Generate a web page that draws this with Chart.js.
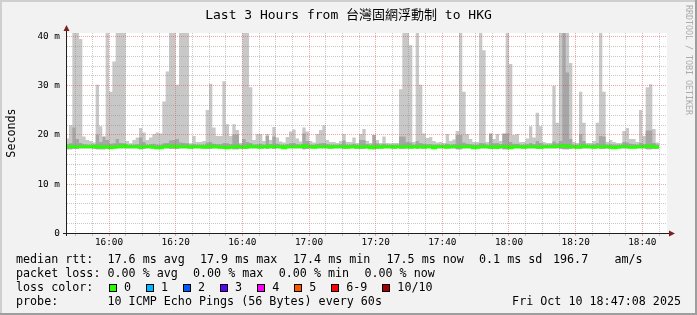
<!DOCTYPE html>
<html>
<head>
<meta charset="utf-8">
<script src="https://cdn.jsdelivr.net/npm/chart.js@4.4.1/dist/chart.umd.min.js"></script>
<style>
  html, body { margin: 0; padding: 0; background: #f2f2f2; }
  canvas { display: block; }
</style>
</head>
<body>
<canvas id="smoke" width="697" height="315"></canvas>
<script>
// one slot per probe round (60s), slot 0 = 15:47
const startMinute = 15 * 60 + 47;

// top of the outer (light) smoke, ms
const smokeHigh = [
  19.3, 22.0, 41, 41, 39.5, 19.7, 19.0, 18.8, 18.5, 30.2,
  21.8, 19.0, 41, 28.8, 34.9, 41, 41, 41, 18.8, 18.3,
  19.0, 19.5, 21.4, 20.5, 19.0, 19.5, 20.2, 20.5, 20.3, 26.8,
  32.9, 41, 41, 30.2, 41, 41, 41, 18.3, 19.8, 18.6,
  18.6, 18.8, 25.1, 30.4, 21.5, 19.8, 19.8, 30.9, 22.2, 19.8,
  22.2, 21.0, 18.4, 41, 41, 29.7, 19.0, 20.2, 20.2, 18.8,
  20.2, 19.0, 21.6, 19.5, 18.7, 18.5, 19.6, 20.7, 21.1, 19.3,
  18.7, 21.5, 20.7, 18.8, 18.5, 20.2, 21.0, 22.0, 19.0, 18.6,
  18.6, 18.4, 18.8, 20.2, 18.6, 18.6, 19.5, 18.4, 20.2, 21.2,
  18.8, 18.4, 20.0, 19.0, 18.4, 19.7, 18.4, 18.3, 18.4, 18.4,
  29.3, 41, 41, 38.2, 18.6, 41, 30.2, 20.3, 19.4, 19.6,
  18.8, 18.5, 18.6, 18.4, 20.2, 18.8, 19.1, 20.8, 41, 28.8,
  20.2, 19.2, 18.6, 18.6, 41, 37.2, 18.6, 20.2, 19.2, 20.2,
  18.8, 20.2, 41, 34.4, 20.0, 20.2, 18.6, 18.6, 19.3, 21.8,
  19.5, 24.5, 21.8, 18.6, 18.4, 18.4, 30.0, 22.5, 41, 41,
  41, 34.6, 18.6, 18.4, 28.8, 22.5, 18.4, 18.4, 18.8, 22.5,
  41, 28.8, 18.6, 19.0, 18.6, 18.4, 18.4, 20.8, 21.4, 19.2,
  19.2, 18.6, 25.1, 19.8, 29.7, 30.3, 21.2, 18.5
];

// top of the inner (darker) smoke, ms
const smokeMid = [
  18.1, 18.3, 21.5, 19.2, 18.4, 18.1, 18.0, 18.0, 18.0, 20.1,
  18.6, 19.7, 19.0, 18.2, 18.3, 19.2, 18.4, 18.3, 18.0, 18.0,
  18.0, 18.1, 19.5, 18.6, 18.0, 18.1, 18.2, 18.0, 18.0, 18.3,
  18.4, 18.9, 19.0, 19.2, 18.5, 18.4, 18.3, 18.0, 18.1, 18.0,
  18.0, 18.0, 18.5, 18.6, 18.2, 18.1, 18.1, 18.4, 18.3, 18.1,
  20.1, 20.1, 18.0, 19.2, 18.6, 18.4, 18.0, 18.1, 18.2, 18.0,
  19.8, 18.1, 19.7, 18.2, 18.0, 18.0, 18.1, 18.3, 18.4, 18.1,
  18.0, 20.3, 18.8, 18.0, 18.0, 18.2, 18.3, 18.4, 18.1, 18.0,
  18.0, 18.0, 18.1, 18.9, 18.0, 18.0, 18.2, 18.0, 19.0, 19.0,
  18.1, 18.0, 20.0, 18.3, 18.0, 18.2, 18.0, 18.0, 18.0, 18.0,
  19.7, 19.7, 18.6, 18.5, 18.0, 18.8, 18.4, 18.2, 18.1, 18.1,
  18.0, 18.0, 18.0, 18.0, 18.2, 18.0, 18.1, 20.0, 20.0, 18.5,
  18.2, 18.1, 18.0, 18.0, 18.4, 18.3, 18.0, 20.3, 18.3, 18.4,
  18.1, 20.3, 20.3, 18.6, 18.2, 18.2, 18.0, 18.0, 18.1, 18.4,
  18.1, 18.8, 18.4, 18.0, 18.0, 18.0, 18.7, 18.3, 18.8, 41,
  32.7, 19.2, 18.0, 18.0, 20.2, 18.8, 18.0, 18.0, 18.1, 18.4,
  19.8, 19.7, 18.0, 18.1, 18.0, 18.0, 18.0, 18.6, 18.5, 18.2,
  18.1, 18.0, 18.4, 18.1, 20.9, 20.9, 18.4, 18.0
];

// bottom of the smoke, ms
const smokeLow = [
  17.1, 17.1, 17.2, 17.2, 17.3, 17.3, 17.3, 17.3, 17.2, 17.1,
  17.1, 17.1, 17.2, 17.2, 17.3, 17.3, 17.3, 17.3, 17.3, 17.3,
  17.3, 17.3, 17.1, 17.2, 17.3, 17.3, 17.3, 17.2, 17.2, 17.3,
  17.3, 17.2, 17.2, 17.2, 17.3, 17.3, 17.3, 17.3, 17.3, 17.3,
  17.3, 17.3, 17.2, 17.2, 17.3, 17.3, 17.3, 17.2, 17.2, 17.3,
  17.1, 17.1, 17.3, 17.2, 17.2, 17.3, 17.3, 17.3, 17.3, 17.3,
  17.2, 17.3, 17.2, 17.3, 17.3, 17.3, 17.3, 17.3, 17.3, 17.3,
  17.3, 17.1, 17.2, 17.3, 17.3, 17.3, 17.3, 17.3, 17.3, 17.3,
  17.3, 17.3, 17.3, 17.2, 17.3, 17.3, 17.3, 17.3, 17.2, 17.2,
  17.3, 17.3, 17.1, 17.2, 17.3, 17.3, 17.3, 17.3, 17.3, 17.3,
  17.2, 17.2, 17.3, 17.3, 17.3, 17.2, 17.3, 17.3, 17.3, 17.3,
  17.3, 17.3, 17.3, 17.3, 17.3, 17.3, 17.3, 17.1, 17.1, 17.3,
  17.3, 17.3, 17.3, 17.3, 17.3, 17.3, 17.3, 17.2, 17.2, 17.2,
  17.3, 17.1, 17.1, 17.2, 17.3, 17.3, 17.3, 17.3, 17.3, 17.3,
  17.3, 17.2, 17.2, 17.3, 17.3, 17.3, 17.3, 17.3, 17.2, 17.1,
  17.1, 17.2, 17.3, 17.3, 17.2, 17.3, 17.3, 17.3, 17.3, 17.3,
  17.2, 17.2, 17.3, 17.3, 17.3, 17.3, 17.3, 17.3, 17.3, 17.3,
  17.3, 17.3, 17.3, 17.3, 17.1, 17.1, 17.2, 17.3
];

// median rtt, ms
const medianRtt = [
  17.6, 17.6, 17.6, 17.6, 17.6, 17.6, 17.6, 17.6, 17.7, 17.6, 17.5, 17.6,
  17.6, 17.4, 17.5, 17.6, 17.6, 17.8, 17.6, 17.6, 17.6, 17.6, 17.5, 17.6,
  17.6, 17.6, 17.5, 17.4, 17.4, 17.6, 17.6, 17.7, 17.7, 17.6, 17.6, 17.6,
  17.6, 17.5, 17.6, 17.6, 17.6, 17.5, 17.6, 17.7, 17.6, 17.6, 17.5, 17.5,
  17.4, 17.5, 17.6, 17.6, 17.5, 17.5, 17.6, 17.7, 17.6, 17.6, 17.5, 17.6,
  17.6, 17.7, 17.6, 17.6, 17.6, 17.4, 17.6, 17.6, 17.6, 17.6, 17.6, 17.8,
  17.6, 17.6, 17.5, 17.6, 17.6, 17.6, 17.6, 17.5, 17.6, 17.6, 17.6, 17.6,
  17.5, 17.6, 17.6, 17.5, 17.6, 17.6, 17.6, 17.4, 17.6, 17.6, 17.5, 17.6,
  17.6, 17.6, 17.5, 17.6, 17.6, 17.6, 17.6, 17.5, 17.6, 17.6, 17.6, 17.5,
  17.6, 17.6, 17.4, 17.6, 17.6, 17.6, 17.5, 17.6, 17.6, 17.6, 17.6, 17.6,
  17.6, 17.6, 17.4, 17.5, 17.6, 17.6, 17.6, 17.5, 17.6, 17.5, 17.6, 17.6,
  17.6, 17.4, 17.6, 17.6, 17.6, 17.5, 17.6, 17.6, 17.6, 17.6, 17.5, 17.6,
  17.6, 17.6, 17.6, 17.7, 17.7, 17.8, 17.7, 17.6, 17.6, 17.5, 17.6, 17.7,
  17.6, 17.6, 17.5, 17.6, 17.6, 17.6, 17.6, 17.5, 17.4, 17.5, 17.6, 17.6,
  17.6, 17.5, 17.5, 17.6, 17.6, 17.6, 17.7, 17.7, 17.6, 17.5
];

const xTickLabels = ['16:00', '16:20', '16:40', '17:00', '17:20', '17:40', '18:00', '18:20', '18:40'];
const yTickLabels = ['0', '10 m', '20 m', '30 m', '40 m'];

const rttStats = ['17.6 ms avg', '17.9 ms max', '17.4 ms min', '17.5 ms now', '0.1 ms sd', '196.7', 'am/s'];
const lossStats = ['0.00 % avg', '0.00 % max', '0.00 % min', '0.00 % now'];
const lossLabels = ['0', '1', '2', '3', '4', '5', '6-9', '10/10'];
const lossColors = ['#26ff00', '#00b8ff', '#0059ff', '#5e00ff', '#ff00ff', '#ff5500', '#ff0000', '#a10000'];

const GRID = 'rgba(143,143,143,0.5)';
const MGRID = 'rgba(222,79,79,0.5)';
const MONO = '"DejaVu Sans Mono", "Noto Sans CJK TC", monospace';

function slotOf(hhmm) {
  const [h, m] = hhmm.split(':').map(Number);
  return h * 60 + m - startMinute;
}

// stepped points: each value holds from its slot start to the next slot
function toPoints(values) {
  const pts = values.map((v, i) => ({ x: i, y: v }));
  pts.push({ x: values.length, y: values[values.length - 1] });
  return pts;
}

const majorSlots = xTickLabels.map(slotOf);
const minorSlots = [];
for (let t = majorSlots[0] % 5; t <= 180; t += 5) minorSlots.push(t);
const yGrid = [];
for (let v = 0; v <= 40; v += 2) yGrid.push(v);

function drawText(ctx, s, x, y, size, opts) {
  opts = opts || {};
  ctx.save();
  ctx.font = size + 'px ' + MONO;
  ctx.fillStyle = opts.color || '#000';
  ctx.textAlign = opts.align || 'left';
  ctx.textBaseline = 'alphabetic';
  ctx.translate(x, y);
  if (opts.rotate) ctx.rotate(opts.rotate);
  ctx.fillText(s, 0, 0);
  ctx.restore();
}

const rrdFrame = {
  id: 'rrdFrame',
  beforeDraw(chart) {
    const { ctx, chartArea: a } = chart;
    ctx.save();
    ctx.fillStyle = '#f2f2f2';
    ctx.fillRect(0, 0, 697, 315);
    ctx.fillStyle = '#cfcfcf';
    ctx.fillRect(0, 0, 697, 2);
    ctx.fillRect(0, 0, 2, 315);
    ctx.fillStyle = '#9e9e9e';
    ctx.fillRect(0, 313, 697, 2);
    ctx.fillRect(695, 0, 2, 315);
    ctx.fillStyle = '#ffffff';
    ctx.fillRect(a.left, a.top, a.right - a.left, a.bottom - a.top);
    ctx.restore();
  },
  afterDraw(chart) {
    const { ctx } = chart;
    const xs = chart.scales.x;
    ctx.save();
    // little ticks under the time axis
    ctx.lineWidth = 1;
    minorSlots.forEach(t => {
      const px = Math.round(xs.getPixelForValue(t) - 0.5) + 0.5;
      ctx.strokeStyle = majorSlots.includes(t) ? MGRID : GRID;
      ctx.beginPath();
      ctx.moveTo(px, 234);
      ctx.lineTo(px, 236);
      ctx.stroke();
    });
    // axes
    ctx.strokeStyle = '#1f1f1f';
    ctx.beginPath();
    ctx.moveTo(63, 233.5);
    ctx.lineTo(670, 233.5);
    ctx.moveTo(66.5, 236);
    ctx.lineTo(66.5, 30);
    ctx.stroke();
    // arrows
    ctx.fillStyle = '#801f1f';
    ctx.beginPath();
    ctx.moveTo(669, 230.5);
    ctx.lineTo(675, 233.5);
    ctx.lineTo(669, 236.5);
    ctx.closePath();
    ctx.fill();
    ctx.beginPath();
    ctx.moveTo(63.5, 31);
    ctx.lineTo(66.5, 25);
    ctx.lineTo(69.5, 31);
    ctx.closePath();
    ctx.fill();
    ctx.restore();

    // title and side texts
    drawText(ctx, 'Last 3 Hours from 台灣固網浮動制 to HKG', 348.5, 19, 13, { align: 'center' });
    drawText(ctx, 'Seconds', 15, 133, 11.7, { align: 'center', rotate: -Math.PI / 2 });
    drawText(ctx, 'RRDTOOL / TOBI OETIKER', 686, 5, 8.3, { color: '#ababab', rotate: Math.PI / 2 });

    // legend
    const f = 11.7;
    drawText(ctx, 'median rtt:', 16, 263, f);
    [107.5, 200, 293, 386.5, 479, 553, 614.5].forEach((x, i) => drawText(ctx, rttStats[i], x, 263, f));
    drawText(ctx, 'packet loss:', 16, 277, f);
    [107.5, 193, 278.7, 364.4].forEach((x, i) => drawText(ctx, lossStats[i], x, 277, f));
    drawText(ctx, 'loss color:', 16, 291, f);
    let bx = 109;
    lossLabels.forEach((lab, i) => {
      const x = Math.round(bx);
      ctx.save();
      ctx.fillStyle = lossColors[i];
      ctx.fillRect(x, 284, 8, 8);
      ctx.strokeStyle = '#000';
      ctx.lineWidth = 1;
      ctx.strokeRect(x + 0.5, 284.5, 7, 7);
      ctx.restore();
      drawText(ctx, lab, bx + 15, 291, f);
      bx += 30 + lab.length * 7.04;
    });
    drawText(ctx, 'probe:', 16, 304.7, f);
    drawText(ctx, '10 ICMP Echo Pings (56 Bytes) every 60s', 107.5, 304.7, f);
    drawText(ctx, 'Fri Oct 10 18:47:08 2025', 681, 304.7, f, { align: 'right' });
  }
};

const smokeStyle = {
  stepped: 'before',
  borderWidth: 0,
  borderColor: 'rgba(0,0,0,0)',
  pointRadius: 0,
  tension: 0
};

new Chart(document.getElementById('smoke'), {
  type: 'line',
  data: {
    datasets: [
      {
        label: 'median rtt',
        data: toPoints(medianRtt),
        stepped: 'before',
        borderColor: lossColors[0],
        borderWidth: 3,
        borderCapStyle: 'butt',
        borderJoinStyle: 'miter',
        pointRadius: 0,
        fill: false,
        order: 0
      },
      Object.assign({ label: 'inner smoke', data: toPoints(smokeMid), backgroundColor: '#a6a6a6', fill: 3, order: 1 }, smokeStyle),
      Object.assign({ label: 'outer smoke', data: toPoints(smokeHigh), backgroundColor: '#c8c8c8', fill: 3, order: 2 }, smokeStyle),
      Object.assign({ label: 'smoke floor', data: toPoints(smokeLow), fill: false, order: 3 }, smokeStyle)
    ]
  },
  options: {
    responsive: false,
    animation: false,
    devicePixelRatio: 1,
    events: [],
    layout: { padding: { top: 33, right: 30, bottom: 0, left: 0 } },
    plugins: {
      legend: { display: false },
      tooltip: { enabled: false },
      title: { display: false }
    },
    scales: {
      x: {
        type: 'linear',
        min: 0.4,
        max: 180.4,
        afterFit: s => { s.height = 81.5; },
        afterBuildTicks: s => { s.ticks = minorSlots.map(v => ({ value: v })); },
        grid: {
          z: 1,
          drawTicks: false,
          lineWidth: 1,
          color: c => (c.tick && majorSlots.includes(c.tick.value)) ? MGRID : GRID
        },
        border: { display: false, dash: [1, 1] },
        ticks: {
          autoSkip: false,
          maxRotation: 0,
          padding: 3,
          color: '#000',
          font: { family: MONO, size: 9.4 },
          callback: v => {
            const i = majorSlots.indexOf(v);
            return i >= 0 ? xTickLabels[i] : '';
          }
        }
      },
      y: {
        min: 0,
        max: 40.71,
        afterFit: s => { s.width = 67; },
        afterBuildTicks: s => { s.ticks = yGrid.map(v => ({ value: v })); },
        grid: {
          z: 1,
          drawTicks: false,
          lineWidth: 1,
          color: c => (c.tick && c.tick.value % 10 === 0) ? MGRID : GRID
        },
        border: { display: false, dash: [1, 1] },
        ticks: {
          autoSkip: false,
          padding: 7,
          color: '#000',
          font: { family: MONO, size: 9.4 },
          callback: v => v % 10 === 0 ? yTickLabels[v / 10] : ''
        }
      }
    }
  },
  plugins: [rrdFrame]
});
</script>
</body>
</html>
